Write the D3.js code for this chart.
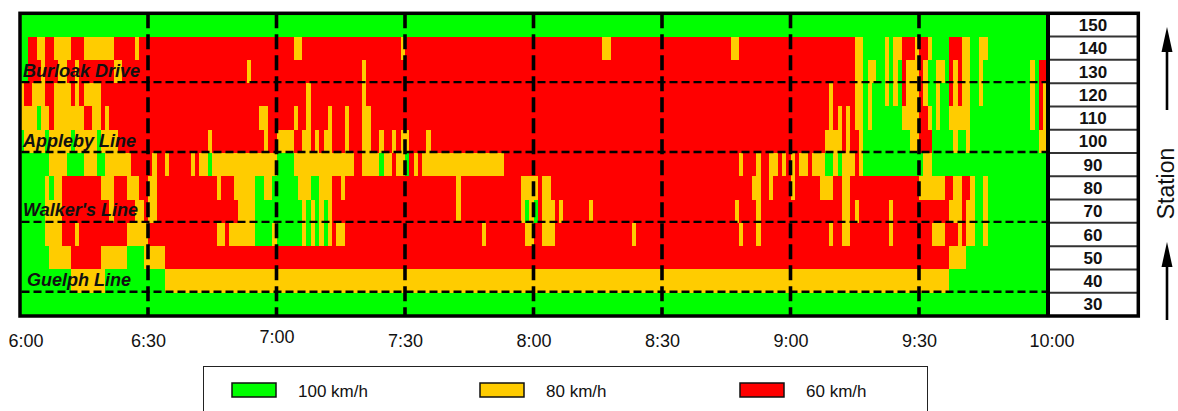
<!DOCTYPE html>
<html>
<head>
<meta charset="utf-8">
<script src="https://cdn.jsdelivr.net/npm/d3@7"></script>
<style>
  body { margin: 0; background: #fff; }
  svg { display: block; font-family: "Liberation Sans", Arial, sans-serif; }
</style>
</head>
<body>
<svg id="chart" width="1178" height="411"></svg>
<script>
// speed classes (km/h)
const G = 100, Y = 80, R = 60;

const stations = [150, 140, 130, 120, 110, 100, 90, 80, 70, 60, 50, 40, 30];
const timeLabels = ["6:00", "6:30", "7:00", "7:30", "8:00", "8:30", "9:00", "9:30", "10:00"];
const tickMinutes = [0, 30, 60, 90, 120, 150, 180, 210, 240];
const legendSpeeds = [100, 80, 60];
const landmarkNames = ["Burloak Drive", "Appleby Line", "Walker's Line", "Guelph Line"];
const landmarkStations = [130, 100, 70, 40];

// runs per station: [start minute after 6:00, speed]
const s150 = [[0,G]];
const s140 = [[0,G],[2,R],[4,Y],[6,R],[8,Y],[12,R],[15,Y],[22,R],[27,Y],[28,R],[64,Y],[66,R],[89,Y],[90,R],[136,Y],[138,R],[166,Y],[168,R],[195,Y],[197,G],[202,Y],[203,G],[204,Y],[206,R],[209,Y],[210,R],[212,Y],[213,G],[217,R],[220,Y],[222,G],[224,Y],[226,G]];
const s130 = [[0,G],[2,R],[5,Y],[6,R],[9,Y],[11,R],[13,Y],[14,R],[22,Y],[24,R],[53,Y],[54,R],[80,Y],[81,R],[195,Y],[197,G],[198,Y],[200,G],[202,Y],[203,G],[204,Y],[205,G],[206,R],[207,Y],[210,R],[211,Y],[212,G],[214,Y],[216,G],[217,R],[218,Y],[219,R],[220,Y],[222,G],[224,Y],[225,G],[236,Y],[237,G],[238,R]];
const s120 = [[0,Y],[1,R],[3,Y],[6,R],[8,Y],[12,R],[13,Y],[14,R],[15,Y],[19,R],[67,Y],[68,R],[80,Y],[81,R],[189,Y],[190,R],[195,Y],[197,G],[198,Y],[199,G],[202,Y],[203,G],[204,Y],[205,G],[206,R],[207,Y],[210,R],[211,Y],[212,G],[214,Y],[215,G],[217,R],[218,Y],[219,R],[220,Y],[222,G],[224,Y],[225,G],[236,Y],[237,G],[238,R],[239,Y]];
const s110 = [[0,Y],[4,G],[5,Y],[7,R],[8,Y],[15,R],[17,Y],[19,R],[20,Y],[21,R],[56,Y],[58,R],[64,Y],[65,R],[67,Y],[68,R],[72,Y],[73,R],[76,Y],[77,R],[80,Y],[82,R],[189,Y],[190,R],[191,Y],[192,R],[193,Y],[194,R],[195,Y],[197,G],[198,Y],[199,G],[206,Y],[210,R],[212,Y],[213,G],[214,Y],[215,G],[217,Y],[222,G],[236,Y],[237,G],[238,R],[239,Y]];
const s100 = [[0,G],[1,Y],[6,G],[7,Y],[12,G],[13,Y],[18,G],[19,Y],[23,R],[44,Y],[45,R],[57,Y],[58,R],[60,Y],[64,R],[66,Y],[68,R],[69,Y],[70,R],[71,Y],[73,R],[76,Y],[77,R],[80,Y],[82,R],[84,Y],[85,R],[87,Y],[88,R],[89,Y],[91,R],[95,Y],[96,R],[188,Y],[192,R],[193,Y],[194,R],[196,Y],[197,G],[208,Y],[210,R],[213,G],[218,Y],[219,G],[221,Y],[222,G],[238,Y]];
const s90 = [[0,G],[7,Y],[11,G],[15,Y],[18,G],[20,Y],[26,R],[31,Y],[32,R],[34,Y],[35,R],[40,Y],[41,R],[42,Y],[44,G],[45,Y],[60,G],[64,Y],[78,R],[80,Y],[84,G],[85,Y],[87,R],[88,Y],[90,G],[91,R],[92,Y],[93,R],[94,Y],[113,R],[168,Y],[169,R],[172,Y],[173,R],[175,Y],[177,R],[178,Y],[179,R],[180,Y],[181,R],[182,Y],[184,R],[185,Y],[188,G],[190,Y],[191,G],[192,Y],[195,R],[196,Y],[197,G],[211,Y],[213,G]];
const s80 = [[0,G],[6,Y],[7,G],[8,Y],[10,R],[19,Y],[22,R],[25,Y],[28,R],[30,Y],[32,R],[46,Y],[47,R],[50,Y],[55,G],[57,Y],[59,G],[65,Y],[68,G],[70,Y],[73,R],[75,Y],[76,R],[102,Y],[103,R],[117,Y],[121,R],[122,Y],[124,R],[171,Y],[173,R],[175,Y],[176,R],[180,Y],[181,R],[187,Y],[190,R],[192,Y],[194,R],[210,Y],[216,R],[218,Y],[220,R],[222,Y],[223,G],[225,Y],[226,G]];
const s70 = [[0,G],[6,Y],[10,R],[21,Y],[22,R],[27,Y],[29,R],[30,Y],[32,R],[51,Y],[55,G],[66,Y],[67,G],[68,Y],[69,G],[70,Y],[71,G],[72,Y],[73,R],[102,Y],[103,R],[117,Y],[118,G],[119,Y],[120,G],[121,R],[122,Y],[125,R],[126,Y],[127,R],[133,Y],[134,R],[167,Y],[168,R],[172,Y],[173,R],[192,Y],[194,R],[195,Y],[196,R],[203,Y],[204,R],[217,Y],[220,R],[221,Y],[223,G],[225,Y],[226,G]];
const s60 = [[0,G],[6,Y],[10,R],[13,Y],[14,R],[25,Y],[30,R],[46,Y],[48,R],[49,Y],[55,G],[59,Y],[60,G],[66,Y],[67,G],[68,Y],[69,G],[70,Y],[71,G],[72,Y],[73,R],[74,Y],[76,R],[108,Y],[109,R],[118,Y],[120,R],[122,Y],[125,R],[143,Y],[144,R],[168,Y],[169,R],[172,Y],[173,R],[189,Y],[190,R],[192,Y],[194,R],[203,Y],[204,R],[213,Y],[216,R],[219,Y],[220,R],[221,Y],[223,G],[225,Y],[226,G]];
const s50 = [[0,G],[7,Y],[12,R],[19,Y],[25,G],[29,Y],[34,R],[217,Y],[221,G]];
const s40 = [[0,G],[12,Y],[20,G],[34,Y],[217,G]];
const s30 = [[0,G]];

const runsByStation = new Map([
  [150, s150], [140, s140], [130, s130], [120, s120], [110, s110], [100, s100],
  [90, s90], [80, s80], [70, s70], [60, s60], [50, s50], [40, s40], [30, s30]
]);

const color = d3.scaleOrdinal().domain([100, 80, 60]).range(["#00ff00", "#ffcc00", "#ff0000"]);

const svg = d3.select("#chart");

const x = d3.scaleLinear().domain([0, 240]).range([19.5, 1047.5]);
const y = d3.scaleBand().domain(stations).range([13.3, 316]);

// heatmap cells
const cells = [];
stations.forEach(st => {
  const runs = runsByStation.get(st);
  runs.forEach((r, i) => {
    const end = i < runs.length - 1 ? runs[i + 1][0] : 240;
    cells.push({station: st, t0: r[0], t1: end, speed: r[1]});
  });
});

svg.append("clipPath").attr("id", "plotClip")
  .append("rect")
  .attr("x", x(0)).attr("y", y.range()[0])
  .attr("width", x(240) - x(0)).attr("height", y.range()[1] - y.range()[0]);

const heat = svg.append("g").attr("clip-path", "url(#plotClip)");
heat.selectAll("rect.cell")
  .data(cells)
  .enter()
  .append("rect")
  .classed("cell", true)
  .attr("x", d => x(d.t0))
  .attr("y", d => y(d.station))
  .attr("width", d => x(d.t1) - x(d.t0) + 0.6)
  .attr("height", y.bandwidth() + 0.6)
  .attr("fill", d => color(d.speed))
  .attr("shape-rendering", "crispEdges");

// horizontal dashed lines under landmark stations
svg.selectAll("line.hdash")
  .data(landmarkStations)
  .enter()
  .append("line")
  .classed("hdash", true)
  .attr("x1", x(0) + 2)
  .attr("x2", x(240))
  .attr("y1", d => y(d) + y.bandwidth() - 1)
  .attr("y2", d => y(d) + y.bandwidth() - 1)
  .attr("stroke", "#000")
  .attr("stroke-width", 2.4)
  .attr("stroke-dasharray", "8,4");

// vertical dashed lines at half hours
svg.selectAll("line.vdash")
  .data(tickMinutes.slice(1, -1))
  .enter()
  .append("line")
  .classed("vdash", true)
  .attr("x1", d => x(d))
  .attr("x2", d => x(d))
  .attr("y1", y.range()[0])
  .attr("y2", y.range()[1])
  .attr("stroke", "#000")
  .attr("stroke-width", 3.6)
  .attr("stroke-dasharray", "15,6");

// landmark labels
svg.selectAll("text.landmark")
  .data(landmarkNames)
  .enter()
  .append("text")
  .classed("landmark", true)
  .attr("x", (d, i) => i === 3 ? 27 : 23)
  .attr("y", (d, i) => y(landmarkStations[i]) + y.bandwidth() - 6.5)
  .attr("font-size", 18)
  .attr("font-weight", "bold")
  .attr("font-style", "italic")
  .attr("fill", "#111")
  .text(d => d);

// station table on the right
const table = svg.append("g");
table.append("rect")
  .attr("x", 1048).attr("y", y.range()[0])
  .attr("width", 90).attr("height", y.range()[1] - y.range()[0])
  .attr("fill", "#fff");
table.selectAll("line.sep")
  .data(stations.slice(1))
  .enter()
  .append("line")
  .classed("sep", true)
  .attr("x1", 1048).attr("x2", 1138)
  .attr("y1", d => y(d)).attr("y2", d => y(d))
  .attr("stroke", "#333")
  .attr("stroke-width", 2);
table.selectAll("text.st")
  .data(stations)
  .enter()
  .append("text")
  .classed("st", true)
  .attr("x", 1093)
  .attr("y", d => y(d) + y.bandwidth() / 2 + 6)
  .attr("text-anchor", "middle")
  .attr("font-size", 17)
  .attr("font-weight", "bold")
  .attr("fill", "#111")
  .text(d => d);

// frame
svg.append("rect")
  .attr("x", 20).attr("y", 13.3)
  .attr("width", 1118.3).attr("height", 302.7)
  .attr("fill", "none")
  .attr("stroke", "#000")
  .attr("stroke-width", 3.5);
svg.append("line")
  .attr("x1", 1048).attr("x2", 1048)
  .attr("y1", 13.3).attr("y2", 316)
  .attr("stroke", "#000")
  .attr("stroke-width", 4);

// time axis
const axis = d3.axisBottom(x)
  .tickValues(tickMinutes)
  .tickFormat((d, i) => timeLabels[i])
  .tickSize(0)
  .tickPadding(18);

const ax = svg.append("g")
  .attr("transform", "translate(0,316)")
  .call(axis);
ax.select(".domain").remove();
ax.selectAll("text")
  .attr("font-size", 18)
  .attr("font-family", "Liberation Sans, Arial, sans-serif")
  .attr("fill", "#111")
  .attr("dx", (d, i) => i === 0 ? 6 : (i === timeLabels.length - 1 ? 4 : 0))
  .attr("y", (d, i) => timeLabels[i] === "7:00" ? 14 : 18);

// Station title + arrows
svg.append("text")
  .attr("transform", "translate(1174,183.5) rotate(-90)")
  .attr("text-anchor", "middle")
  .attr("font-size", 23)
  .attr("fill", "#111")
  .text("Station");

const arrows = [[110, 27], [320, 242]];
arrows.forEach(([y0, tip]) => {
  svg.append("line")
    .attr("x1", 1167).attr("x2", 1167)
    .attr("y1", y0).attr("y2", tip + 20)
    .attr("stroke", "#000").attr("stroke-width", 2.6);
  svg.append("path")
    .attr("d", `M1161.5,${tip + 25}L1167,${tip}L1172.5,${tip + 25}Z`)
    .attr("fill", "#000");
});

// legend
const legend = svg.append("g");
legend.append("rect")
  .attr("x", 203.5).attr("y", 366.5)
  .attr("width", 724).attr("height", 60)
  .attr("fill", "#fff")
  .attr("stroke", "#222")
  .attr("stroke-width", 1);

const lx = d3.scaleOrdinal().domain(legendSpeeds).range([232, 480, 740]);
const items = legend.selectAll("g.item")
  .data(legendSpeeds)
  .enter()
  .append("g")
  .classed("item", true)
  .attr("transform", d => `translate(${lx(d)},383)`);
items.append("rect")
  .attr("width", 44).attr("height", 14)
  .attr("fill", d => color(d))
  .attr("stroke", "#111")
  .attr("stroke-width", 1.5);
items.append("text")
  .attr("x", 66).attr("y", 14)
  .attr("font-size", 17)
  .attr("fill", "#111")
  .text(d => d + " km/h");
</script>
</body>
</html>
